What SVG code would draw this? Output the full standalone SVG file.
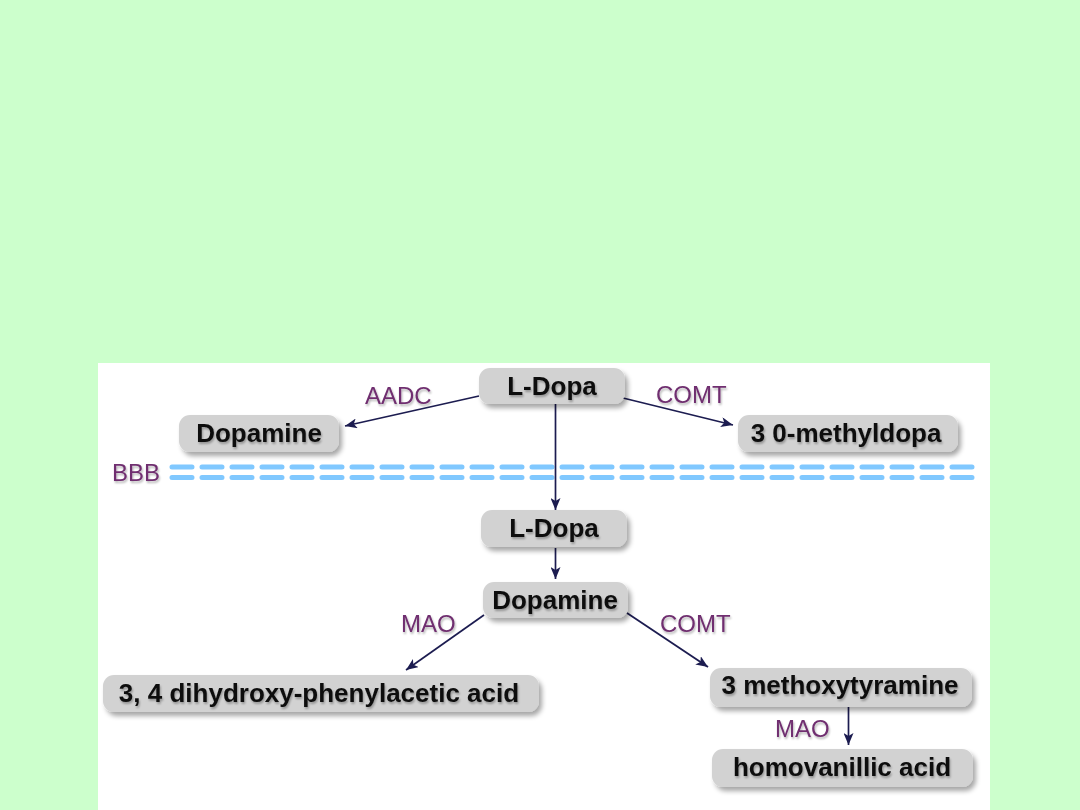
<svg xmlns="http://www.w3.org/2000/svg" width="1080" height="810" viewBox="0 0 1080 810">
<defs>
<style>
.box{fill:#d2d2d2;filter:url(#sh)}
.t{font-family:"Liberation Sans",Arial,sans-serif;font-weight:bold;font-size:26px;fill:#111;text-anchor:middle;filter:url(#ts)}
.lab{font-family:"Liberation Sans",Arial,sans-serif;font-size:24px;fill:#6f2f6f;filter:url(#ts)}
.ln{stroke:#1c1c50;stroke-width:1.7;fill:none;marker-end:url(#ah)}
.bbb{stroke:#80c8ff;stroke-width:5;stroke-dasharray:20 10;stroke-linecap:round;fill:none}
</style>
<filter id="sh" x="-10%" y="-30%" width="125%" height="170%">
<feGaussianBlur in="SourceAlpha" stdDeviation="2.5"/>
<feOffset dx="3" dy="4" result="b"/>
<feComponentTransfer><feFuncA type="linear" slope="0.35"/></feComponentTransfer>
<feMerge><feMergeNode/><feMergeNode in="SourceGraphic"/></feMerge>
</filter>
<filter id="ts" x="-5%" y="-20%" width="115%" height="150%">
<feGaussianBlur in="SourceAlpha" stdDeviation="1"/>
<feOffset dx="1" dy="1.5"/>
<feComponentTransfer><feFuncA type="linear" slope="0.3"/></feComponentTransfer>
<feMerge><feMergeNode/><feMergeNode in="SourceGraphic"/></feMerge>
</filter>
<marker id="ah" viewBox="0 0 12 10" refX="12" refY="5" markerWidth="12" markerHeight="10" markerUnits="userSpaceOnUse" orient="auto">
<path d="M0,0 L12,5 L0,10 L3,5 Z" fill="#1c1c50"/>
</marker>
</defs>
<rect x="0" y="0" width="1080" height="810" fill="#ccffcc"/>
<rect x="98" y="363" width="892" height="447" fill="#ffffff"/>

<g id="bbb">
<text class="lab" x="112" y="481">BBB</text>
<line class="bbb" x1="172" y1="467" x2="975" y2="467"/>
<line class="bbb" x1="172" y1="477.5" x2="975" y2="477.5"/>
</g>

<g id="connectors">
<line class="ln" x1="479" y1="396" x2="345" y2="426"/>
<line class="ln" x1="623" y1="398" x2="733" y2="425"/>
<line class="ln" x1="555.5" y1="404" x2="555.5" y2="510"/>
<line class="ln" x1="555.5" y1="548" x2="555.5" y2="579"/>
<line class="ln" x1="484" y1="615" x2="406" y2="670"/>
<line class="ln" x1="627" y1="613" x2="708" y2="667"/>
<line class="ln" x1="848.5" y1="707" x2="848.5" y2="745"/>
<text class="lab" x="365" y="404">AADC</text>
<text class="lab" x="656" y="403">COMT</text>
<text class="lab" x="401" y="632">MAO</text>
<text class="lab" x="660" y="632">COMT</text>
<text class="lab" x="775" y="737">MAO</text>
</g>

<g id="ldopa-top">
<rect class="box" x="479" y="368" width="146" height="36" rx="11"/>
<text class="t" x="552" y="395">L-Dopa</text>
</g>
<g id="dopamine-periph">
<rect class="box" x="179" y="415" width="160" height="37" rx="11"/>
<text class="t" x="259" y="442">Dopamine</text>
</g>
<g id="methyldopa">
<rect class="box" x="738" y="415" width="220" height="37" rx="11"/>
<text class="t" x="846" y="442">3 0-methyldopa</text>
</g>
<g id="ldopa-brain">
<rect class="box" x="481" y="510" width="146" height="37" rx="11"/>
<text class="t" x="554" y="537">L-Dopa</text>
</g>
<g id="dopamine-brain">
<rect class="box" x="483" y="582" width="145" height="36" rx="11"/>
<text class="t" x="555" y="609">Dopamine</text>
</g>
<g id="dopac">
<rect class="box" x="103" y="675" width="436" height="37" rx="11"/>
<text class="t" x="319" y="702">3, 4 dihydroxy-phenylacetic acid</text>
</g>
<g id="methoxytyramine">
<rect class="box" x="710" y="668" width="262" height="39" rx="11"/>
<text class="t" x="840" y="694">3 methoxytyramine</text>
</g>
<g id="hva">
<rect class="box" x="712" y="749" width="261" height="38" rx="11"/>
<text class="t" x="842" y="776">homovanillic acid</text>
</g>
</svg>
